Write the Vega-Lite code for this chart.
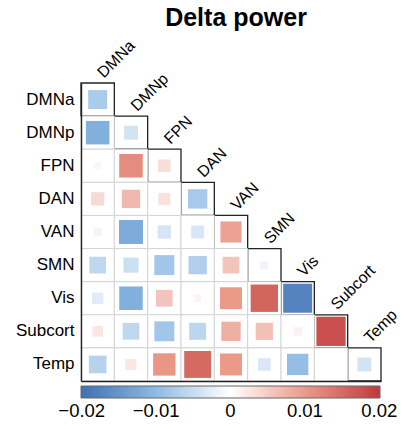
{
  "$schema": "https://vega.github.io/schema/vega-lite/v6.json",
  "width": 300,
  "height": 298,
  "autosize": {"type": "none"},
  "padding": {"left": 81, "top": 83, "right": 28, "bottom": 48},
  "title": {
    "text": "Delta power",
    "fontSize": 25,
    "fontWeight": "bold",
    "font": "Liberation Sans",
    "color": "black",
    "anchor": "middle",
    "frame": "group",
    "baseline": "alphabetic",
    "offset": -13,
    "dx": 5
  },
  "config": {"view": {"stroke": null}, "font": "Liberation Sans"},
  "data": {
    "values": [
      {"row": "DMNa", "col": "DMNa", "value": -0.0075},
      {"row": "DMNp", "col": "DMNa", "value": -0.0115},
      {"row": "DMNp", "col": "DMNp", "value": -0.004},
      {"row": "FPN", "col": "DMNa", "value": -0.001},
      {"row": "FPN", "col": "DMNp", "value": 0.0115},
      {"row": "FPN", "col": "FPN", "value": 0.0033},
      {"row": "DAN", "col": "DMNa", "value": 0.0037},
      {"row": "DAN", "col": "DMNp", "value": 0.007},
      {"row": "DAN", "col": "FPN", "value": 0.003},
      {"row": "DAN", "col": "DAN", "value": -0.0078},
      {"row": "VAN", "col": "DMNa", "value": -0.0014},
      {"row": "VAN", "col": "DMNp", "value": -0.012},
      {"row": "VAN", "col": "FPN", "value": -0.0037},
      {"row": "VAN", "col": "DAN", "value": -0.0035},
      {"row": "VAN", "col": "VAN", "value": 0.0093},
      {"row": "SMN", "col": "DMNa", "value": -0.0058},
      {"row": "SMN", "col": "DMNp", "value": -0.0047},
      {"row": "SMN", "col": "FPN", "value": -0.0083},
      {"row": "SMN", "col": "DAN", "value": -0.007},
      {"row": "SMN", "col": "VAN", "value": 0.0058},
      {"row": "SMN", "col": "SMN", "value": -0.0014},
      {"row": "Vis", "col": "DMNa", "value": -0.0027},
      {"row": "Vis", "col": "DMNp", "value": -0.0115},
      {"row": "Vis", "col": "FPN", "value": 0.0058},
      {"row": "Vis", "col": "DAN", "value": 0.0012},
      {"row": "Vis", "col": "VAN", "value": 0.01},
      {"row": "Vis", "col": "SMN", "value": 0.0156},
      {"row": "Vis", "col": "Vis", "value": -0.0175},
      {"row": "Subcort", "col": "DMNa", "value": 0.0024},
      {"row": "Subcort", "col": "DMNp", "value": -0.0058},
      {"row": "Subcort", "col": "FPN", "value": -0.0083},
      {"row": "Subcort", "col": "DAN", "value": -0.006},
      {"row": "Subcort", "col": "VAN", "value": 0.0078},
      {"row": "Subcort", "col": "SMN", "value": 0.0062},
      {"row": "Subcort", "col": "Vis", "value": 0.0014},
      {"row": "Subcort", "col": "Subcort", "value": 0.0178},
      {"row": "Temp", "col": "DMNa", "value": -0.0065},
      {"row": "Temp", "col": "DMNp", "value": 0.0025},
      {"row": "Temp", "col": "FPN", "value": 0.0104},
      {"row": "Temp", "col": "DAN", "value": 0.0151},
      {"row": "Temp", "col": "VAN", "value": 0.01},
      {"row": "Temp", "col": "SMN", "value": -0.0033},
      {"row": "Temp", "col": "Vis", "value": -0.0095},
      {"row": "Temp", "col": "Subcort", "value": 0.0002},
      {"row": "Temp", "col": "Temp", "value": -0.004}
    ]
  },
  "encoding": {
    "x": {
      "field": "col",
      "type": "nominal",
      "scale": {
        "domain": ["DMNa", "DMNp", "FPN", "DAN", "VAN", "SMN", "Vis", "Subcort", "Temp"],
        "padding": 0
      },
      "axis": {
        "orient": "bottom",
        "labels": false,
        "ticks": false,
        "title": null,
        "grid": false,
        "domainColor": "#222222",
        "domainWidth": 1.4,
        "zindex": 1
      }
    },
    "y": {
      "field": "row",
      "type": "nominal",
      "scale": {
        "domain": ["DMNa", "DMNp", "FPN", "DAN", "VAN", "SMN", "Vis", "Subcort", "Temp"],
        "padding": 0
      },
      "axis": {
        "labelFontSize": 17,
        "labelFont": "Liberation Sans",
        "labelColor": "black",
        "labelPadding": 7,
        "ticks": false,
        "title": null,
        "grid": false,
        "domainColor": "#222222",
        "domainWidth": 1.4,
        "zindex": 1
      }
    }
  },
  "layer": [
    {
      "transform": [{"filter": "datum.row === datum.col"}],
      "mark": {"type": "rect", "fill": "white", "stroke": "#222222", "strokeWidth": 1.3}
    },
    {
      "transform": [{"filter": "datum.row !== datum.col"}],
      "mark": {"type": "rect", "fill": "white", "fillOpacity": 1, "stroke": "#d4d4d4", "strokeWidth": 1}
    },
    {
      "mark": {"type": "square", "filled": true, "opacity": 1, "strokeWidth": 0},
      "encoding": {
        "size": {
          "field": "value",
          "type": "quantitative",
          "scale": {"domain": [-0.02, 0, 0.02], "range": [961, 0, 961], "zero": false},
          "legend": null
        },
        "color": {
          "field": "value",
          "type": "quantitative",
          "scale": {
            "domain": [-0.0201, -0.01, 0, 0.01, 0.0201],
            "range": ["#3f70b2", "#8fbae4", "#ffffff", "#eb9a8a", "#bf3a3c"],
            "interpolate": "rgb"
          },
          "legend": {
            "orient": "none",
            "direction": "horizontal",
            "legendX": 0,
            "legendY": 303,
            "title": null,
            "padding": 0,
            "gradientLength": 299,
            "gradientThickness": 12,
            "gradientStrokeColor": "#666666",
            "gradientStrokeWidth": 1,
            "values": [-0.02, -0.01, 0, 0.01, 0.02],
            "format": ".2~f",
            "labelFontSize": 18.5,
            "labelFont": "Liberation Sans",
            "labelColor": "black",
            "labelAlign": "center",
            "labelOffset": 4,
            "labelOverlap": false
          }
        }
      }
    },
    {
      "transform": [{"filter": "datum.row === datum.col"}],
      "mark": {
        "type": "text",
        "angle": 315,
        "align": "left",
        "baseline": "alphabetic",
        "dx": 19,
        "dy": -10.3,
        "fontSize": 16,
        "font": "Liberation Sans",
        "color": "black"
      },
      "encoding": {"text": {"field": "col"}}
    }
  ]
}
